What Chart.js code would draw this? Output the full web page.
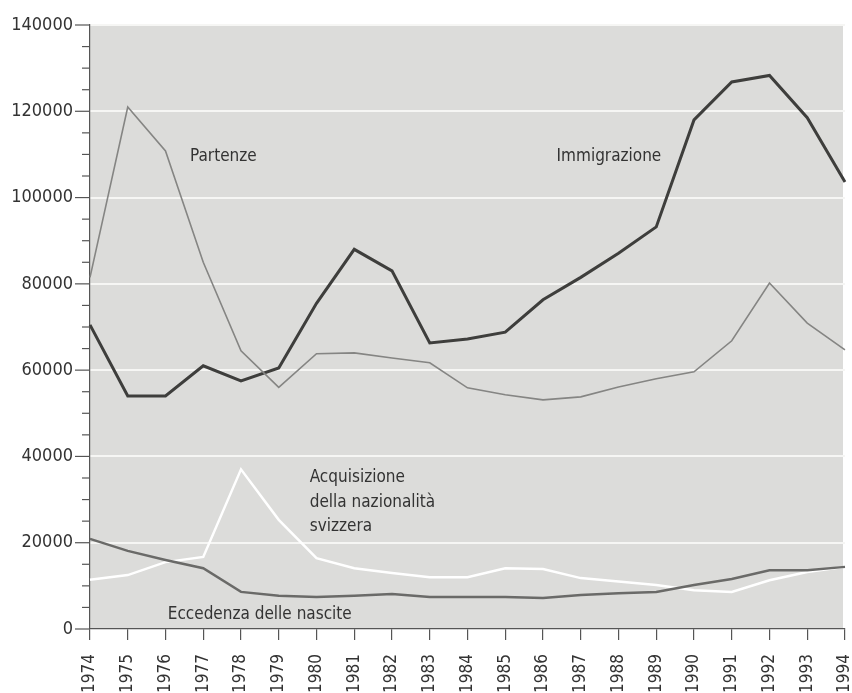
<!DOCTYPE html>
<html>
<head>
<meta charset="utf-8">
<script src="https://cdn.jsdelivr.net/npm/chart.js@4.4.1/dist/chart.umd.min.js"></script>
<style>
  html, body { margin: 0; padding: 0; background: #fff; }
  #wrap { width: 852px; height: 693px; }
</style>
</head>
<body>
<div id="wrap"><canvas id="migChart" width="852" height="693"></canvas></div>
<script>
// Anni
const years = ['1974', '1975', '1976', '1977', '1978', '1979', '1980', '1981', '1982', '1983', '1984',
    '1985', '1986', '1987', '1988', '1989', '1990', '1991', '1992', '1993', '1994'];

const immigrazione = [70500, 54000, 54000, 61000, 57500, 60500, 75500, 88000, 83000, 66300, 67200,
    68800, 76300, 81500, 87100, 93200, 118000, 126800, 128300, 118500, 103600];

const partenze = [81500, 121000, 110800, 85000, 64500, 56000, 63800, 64000, 62800, 61700, 55900,
    54300, 53100, 53800, 56100, 58000, 59600, 66800, 80200, 70900, 64700];

const acquisizione = [11400, 12500, 15500, 16700, 37000, 25300, 16400, 14100, 13000, 12000, 12000,
    14100, 13900, 11800, 11000, 10200, 9000, 8600, 11300, 13200, 14400];

const eccedenza = [20900, 18100, 16000, 14100, 8600, 7700, 7400, 7700, 8100, 7400, 7400,
    7400, 7200, 7900, 8300, 8600, 10200, 11600, 13600, 13600, 14400];

const yTicks = [0, 20000, 40000, 60000, 80000, 100000, 120000, 140000];

// etichette dentro il grafico: [testo, indice anno, valore]
const seriesLabels = [
    ['Partenze', 2.65, 109400],
    ['Immigrazione', 12.36, 109400],
    ['Acquisizione', 5.82, 35000],
    ['della nazionalità', 5.82, 29300],
    ['svizzera', 5.82, 23700],
    ['Eccedenza delle nascite', 2.06, 3300]
];

const FONT = '"DejaVu Sans Condensed", "Liberation Sans", sans-serif';

const chartBackground = {
    id: 'chartBackground',
    beforeDraw(chart) {
        const { ctx, chartArea } = chart;
        ctx.save();
        ctx.fillStyle = '#dcdcda';
        ctx.fillRect(chartArea.left, chartArea.top, chartArea.right - chartArea.left - 2, chartArea.bottom - chartArea.top);
        ctx.restore();
    }
};

const minorTicks = {
    id: 'minorTicks',
    afterDraw(chart) {
        const { ctx } = chart;
        const y = chart.scales.y;
        ctx.save();
        ctx.strokeStyle = '#555';
        ctx.lineWidth = 1.2;
        for (let v = 0; v <= 140000; v += 5000) {
            const py = y.getPixelForValue(v);
            const major = v % 20000 === 0;
            ctx.beginPath();
            ctx.moveTo(y.right - (major ? 15 : 8), py);
            ctx.lineTo(y.right, py);
            ctx.stroke();
        }
        ctx.restore();
    }
};

const textLabels = {
    id: 'textLabels',
    afterDatasetsDraw(chart) {
        const { ctx } = chart;
        const x = chart.scales.x, y = chart.scales.y;
        ctx.save();
        ctx.fillStyle = '#333';
        ctx.font = '17px ' + FONT;
        ctx.textAlign = 'left';
        ctx.textBaseline = 'middle';
        seriesLabels.forEach(l => {
            ctx.fillText(l[0], x.getPixelForValue(l[1]), y.getPixelForValue(l[2]));
        });
        ctx.restore();
    }
};

function line(data, color, width) {
    return {
        data: data,
        borderColor: color,
        borderWidth: width,
        pointRadius: 0,
        tension: 0,
        fill: false
    };
}

new Chart(document.getElementById('migChart'), {
    type: 'line',
    data: {
        labels: years,
        datasets: [
            line(eccedenza, '#6a6a68', 2.5),
            line(acquisizione, '#ffffff', 2.5),
            line(partenze, '#858583', 1.6),
            line(immigrazione, '#3e3e3c', 3)
        ]
    },
    options: {
        responsive: false,
        animation: false,
        layout: { padding: { top: 25, right: 7, left: 0, bottom: 0 } },
        plugins: { legend: { display: false }, tooltip: { enabled: false } },
        scales: {
            x: {
                offset: false,
                grid: { drawOnChartArea: false, color: '#555', tickLength: 11, lineWidth: 1.2 },
                border: { color: '#555', width: 1.2 },
                ticks: {
                    autoSkip: false,
                    minRotation: 90,
                    maxRotation: 90,
                    padding: 14,
                    color: '#333',
                    font: { size: 17, family: FONT }
                },
                afterFit(scale) {
                    scale.height = 64;
                    scale.paddingLeft = 0;
                    scale.paddingRight = 0;
                }
            },
            y: {
                min: 0,
                max: 140000,
                afterBuildTicks(scale) { scale.ticks = yTicks.map(v => ({ value: v })); },
                grid: {
                    color: '#f6f6f4',
                    lineWidth: ctx => (ctx.tick && ctx.tick.value === 0 ? 0 : 2),
                    drawTicks: false
                },
                border: { color: '#555', width: 1.2 },
                ticks: {
                    padding: 17,
                    color: '#333',
                    font: { size: 18, family: FONT },
                    callback: v => String(v)
                },
                afterFit(scale) {
                    scale.width = 90;
                    scale.paddingTop = 0;
                    scale.paddingBottom = 0;
                }
            }
        }
    },
    plugins: [chartBackground, minorTicks, textLabels]
});
</script>
</body>
</html>
